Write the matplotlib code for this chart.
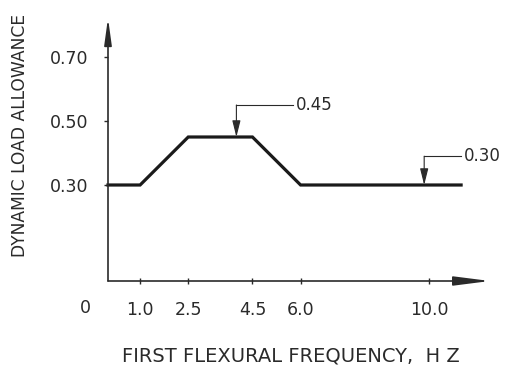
import matplotlib
matplotlib.use("Agg")
import matplotlib.pyplot as plt

# Data
freq = [0.0, 1.0, 2.5, 4.5, 6.0, 11.0]
allowance = [0.30, 0.30, 0.45, 0.45, 0.30, 0.30]
xticks = [1.0, 2.5, 4.5, 6.0, 10.0]
xticklabels = ["1.0", "2.5", "4.5", "6.0", "10.0"]
yticks = [0.30, 0.50, 0.70]
yticklabels = ["0.30", "0.50", "0.70"]
callouts = [(4.0, 0.45, "0.45"), (9.85, 0.30, "0.30")]

plt.rcParams['font.family'] = ['DejaVu Sans']
W, H = 509, 367
fig = plt.figure(figsize=(W/100, H/100), dpi=100)
x0, y0 = 108, 281           # pixel position of data origin
sx, sy = 32.1, 320.0        # pixels per unit
xmax = (490 - x0) / sx
ymax = (y0 - 18) / sy
ax = fig.add_axes([x0/W, (H - y0)/H, (490 - x0)/W, (y0 - 18)/H])
ax.set_xlim(0, xmax)
ax.set_ylim(0, ymax)
for s in ax.spines.values():
    s.set_visible(False)

ink = "#2a2a2a"
# axes with arrows
ax.annotate("", xy=(0, ymax), xytext=(0, 0),
            arrowprops=dict(arrowstyle="-|>,head_length=1.6,head_width=0.22",
                            color=ink, lw=1.2, shrinkA=0, shrinkB=0),
            annotation_clip=False)
ax.annotate("", xy=(xmax, 0), xytext=(0, 0),
            arrowprops=dict(arrowstyle="-|>,head_length=2.2,head_width=0.28",
                            color=ink, lw=1.2, shrinkA=0, shrinkB=0),
            annotation_clip=False)

# main line
ax.plot(freq, allowance, color="#1a1a1a", lw=2.3, solid_joinstyle="miter",
        clip_on=False)

# ticks
ax.set_xticks(xticks)
ax.set_xticklabels(xticklabels, fontsize=12.5, color=ink)
ax.set_yticks(yticks)
ax.set_yticklabels(yticklabels, fontsize=12.5, color=ink)
ax.tick_params(axis="x", direction="inout", length=5, width=1, color=ink, pad=12)
ax.tick_params(axis="y", direction="out", length=3, width=1, color=ink, pad=11)
fig.text(85/W, 1 - 308/H, "0", fontsize=12.5, color=ink, ha="center", va="center")

# callouts
for cx, cy, lab in callouts:
    top = cy + (0.10 if lab == "0.45" else 0.09)
    end = cx + (1.75 if lab == "0.45" else 1.15)
    ax.plot([cx, end], [top, top], color=ink, lw=0.8, clip_on=False)
    ax.annotate("", xy=(cx, cy), xytext=(cx, top),
                arrowprops=dict(arrowstyle="-|>,head_length=1.0,head_width=0.25",
                                color=ink, lw=0.8, shrinkA=0, shrinkB=0),
                annotation_clip=False)
    ax.text(end + 0.1, top, lab, fontsize=12, color=ink, ha="left", va="center")

fig.text(291/W, 1 - 356/H, "FIRST FLEXURAL FREQUENCY,  H Z", fontsize=14,
         color=ink, ha="center", va="center")
fig.text(20/W, 1 - 135/H, "DYNAMIC LOAD ALLOWANCE", fontsize=12.3,
         color=ink, ha="center", va="center", rotation=90)

fig.savefig("out.png", dpi=100, facecolor="white")
